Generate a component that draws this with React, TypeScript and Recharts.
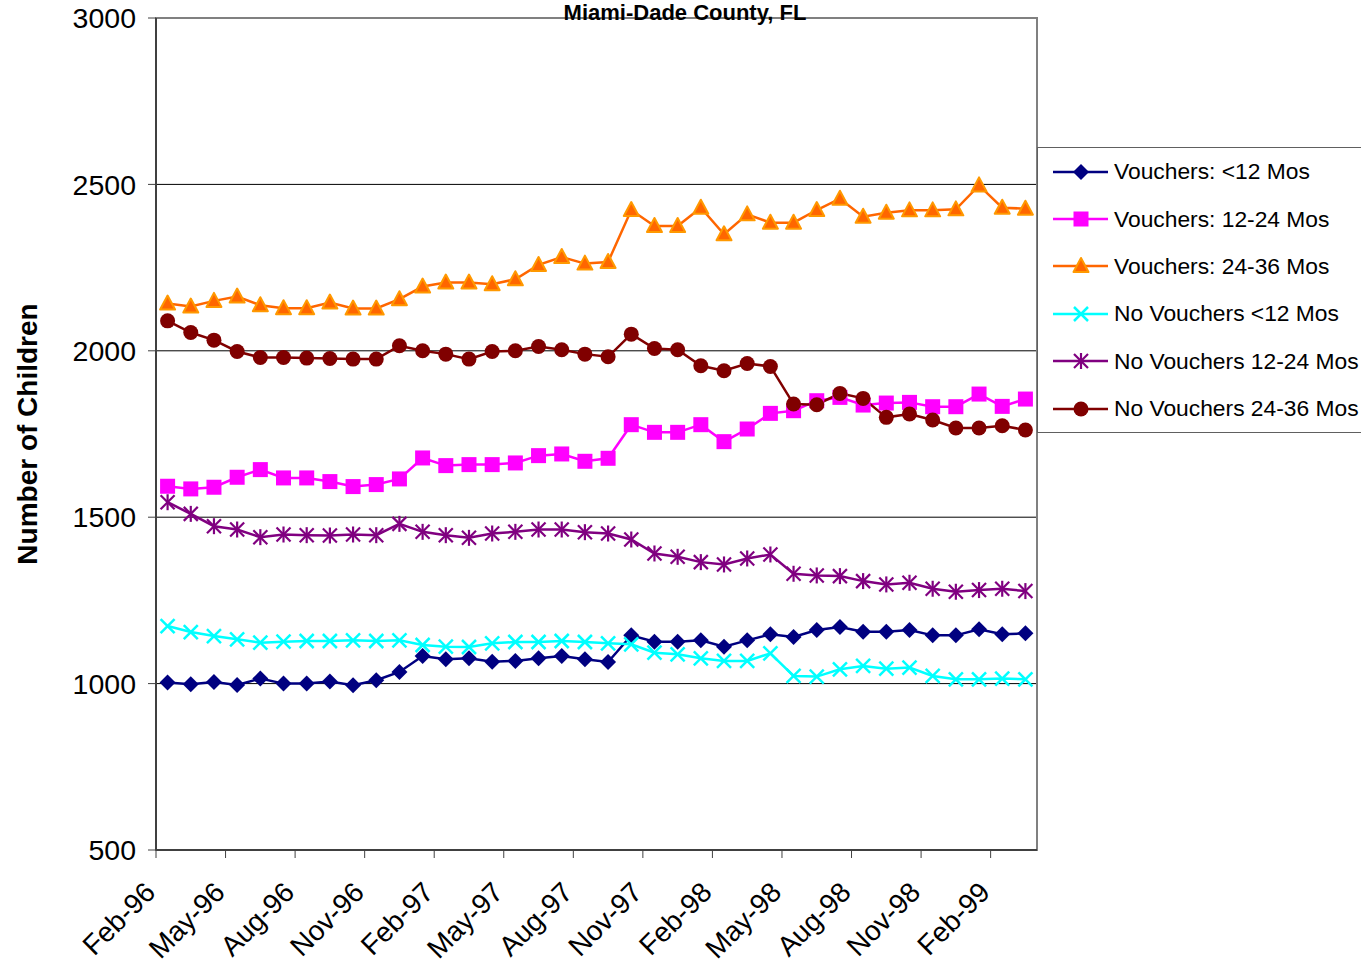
import React from "react";
import {
  LineChart, Line, XAxis, YAxis, CartesianGrid, ReferenceArea,
} from "recharts";

const MONTHS = [
  "Feb-96", "Mar-96", "Apr-96", "May-96", "Jun-96", "Jul-96", "Aug-96", "Sep-96", "Oct-96", "Nov-96", "Dec-96", "Jan-97",
  "Feb-97", "Mar-97", "Apr-97", "May-97", "Jun-97", "Jul-97", "Aug-97", "Sep-97", "Oct-97", "Nov-97", "Dec-97", "Jan-98",
  "Feb-98", "Mar-98", "Apr-98", "May-98", "Jun-98", "Jul-98", "Aug-98", "Sep-98", "Oct-98", "Nov-98", "Dec-98", "Jan-99",
  "Feb-99", "Mar-99",
];

const V_LT12 = [1003, 998, 1005, 996, 1015, 1000, 1000, 1006, 995, 1010, 1035, 1083, 1073, 1076, 1066, 1068, 1076, 1083, 1073, 1065, 1145, 1126, 1126, 1130, 1111, 1130, 1148, 1140, 1161, 1170, 1156, 1156, 1161, 1145, 1145, 1163, 1148, 1151];
const V_12_24 = [1593, 1585, 1590, 1620, 1643, 1618, 1618, 1607, 1592, 1598, 1615, 1678, 1655, 1658, 1658, 1663, 1685, 1690, 1668, 1677, 1778, 1755, 1755, 1778, 1727, 1765, 1812, 1820, 1850, 1860, 1837, 1843, 1845, 1832, 1832, 1870, 1833, 1855];
const V_24_36 = [2142, 2133, 2150, 2163, 2137, 2128, 2128, 2145, 2127, 2127, 2155, 2193, 2205, 2205, 2200, 2215, 2258, 2282, 2262, 2267, 2423, 2375, 2375, 2430, 2350, 2410, 2385, 2385, 2423, 2457, 2403, 2415, 2422, 2422, 2425, 2497, 2430, 2427];
const NV_LT12 = [1173, 1155, 1143, 1133, 1123, 1126, 1128, 1128, 1130, 1128, 1130, 1116, 1111, 1110, 1121, 1125, 1125, 1128, 1125, 1121, 1118, 1093, 1088, 1076, 1068, 1068, 1091, 1023, 1021, 1043, 1053, 1045, 1048, 1023, 1013, 1013, 1015, 1013];
const NV_12_24 = [1545, 1510, 1473, 1463, 1440, 1448, 1446, 1445, 1448, 1446, 1480, 1456, 1446, 1438, 1451, 1456, 1463, 1463, 1455, 1451, 1433, 1391, 1381, 1365, 1358, 1376, 1388, 1330, 1325, 1323, 1308, 1298, 1303, 1285, 1276, 1281, 1285, 1278];
const NV_24_36 = [2090, 2055, 2032, 1998, 1980, 1980, 1978, 1977, 1975, 1975, 2015, 2000, 1990, 1975, 1998, 2000, 2013, 2003, 1990, 1982, 2050, 2007, 2003, 1955, 1940, 1962, 1953, 1840, 1838, 1872, 1857, 1800, 1810, 1792, 1768, 1768, 1775, 1762];

const Y_TICKS = [500, 1000, 1500, 2000, 2500, 3000];

const FONT = "'Liberation Sans', Arial, sans-serif";

type Shape = "diamond" | "square" | "triangle" | "x" | "star" | "circle";

const SERIES: { key: string; name: string; color: string; shape: Shape; values: number[] }[] = [
  { key: "v12", name: "Vouchers: <12 Mos", color: "#000080", shape: "diamond", values: V_LT12 },
  { key: "v24", name: "Vouchers: 12-24 Mos", color: "#FF00FF", shape: "square", values: V_12_24 },
  { key: "v36", name: "Vouchers: 24-36 Mos", color: "#FF6600", shape: "triangle", values: V_24_36 },
  { key: "n12", name: "No Vouchers <12 Mos", color: "#00FFFF", shape: "x", values: NV_LT12 },
  { key: "n24", name: "No Vouchers 12-24 Mos", color: "#800080", shape: "star", values: NV_12_24 },
  { key: "n36", name: "No Vouchers 24-36 Mos", color: "#800000", shape: "circle", values: NV_24_36 },
];

const data = MONTHS.map((m, i) => {
  const row: Record<string, number | string> = { idx: i, month: m };
  SERIES.forEach((s) => { row[s.key] = s.values[i]; });
  return row;
});

// tick marks sit between months, every 3rd one (Excel style)
const X_TICKS = MONTHS.map((_, i) => i - 0.5).filter((_, i) => i % 3 === 0 && i < MONTHS.length - 1);

const Marker = ({ cx, cy, shape, color }: { cx: number; cy: number; shape: Shape; color: string }) => {
  if (cx == null || cy == null) return null;
  switch (shape) {
    case "diamond":
      return <polygon points={`${cx},${cy - 8} ${cx + 8},${cy} ${cx},${cy + 8} ${cx - 8},${cy}`} fill={color} />;
    case "square":
      return <rect x={cx - 7.5} y={cy - 7.5} width={15} height={15} fill={color} />;
    case "triangle":
      return (
        <polygon
          points={`${cx},${cy - 8} ${cx + 7.5},${cy + 6} ${cx - 7.5},${cy + 6}`}
          fill="#FF6600" stroke="#FF9900" strokeWidth={2} strokeLinejoin="round"
        />
      );
    case "x":
      return (
        <g stroke={color} strokeWidth={2.5}>
          <line x1={cx - 7} y1={cy - 7} x2={cx + 7} y2={cy + 7} />
          <line x1={cx - 7} y1={cy + 7} x2={cx + 7} y2={cy - 7} />
        </g>
      );
    case "star":
      return (
        <g stroke={color} strokeWidth={2.2}>
          <line x1={cx - 7} y1={cy - 7} x2={cx + 7} y2={cy + 7} />
          <line x1={cx - 7} y1={cy + 7} x2={cx + 7} y2={cy - 7} />
          <line x1={cx} y1={cy - 8} x2={cx} y2={cy + 8} />
        </g>
      );
    default:
      return <circle cx={cx} cy={cy} r={7.5} fill={color} />;
  }
};

const makeDot = (shape: Shape, color: string) => (props: any) => (
  <Marker key={`${shape}-${props.index}`} cx={props.cx} cy={props.cy} shape={shape} color={color} />
);

const XTick = ({ x, y, payload }: any) => {
  const label = MONTHS[Math.round(payload.value + 0.5)];
  const tx = x + 1;
  const ty = y + 34;
  return (
    <text x={tx} y={ty} transform={`rotate(-45 ${tx} ${ty})`} textAnchor="end"
      fontSize={28} fontFamily={FONT} fill="#000">
      {label}
    </text>
  );
};

export default function App() {
  return (
    <div style={{ position: "absolute", left: 0, top: 0, width: 1361, height: 963, background: "#fff", overflow: "hidden" }}>
      <LineChart
        width={1361}
        height={963}
        data={data}
        margin={{ top: 18, right: 324, left: 0, bottom: 0 }}
        style={{ fontFamily: FONT }}
      >
        <CartesianGrid horizontal vertical={false} stroke="#000" strokeWidth={1} />
        <ReferenceArea x1={-0.5} x2={37.5} y1={500} y2={3000} fill="none" fillOpacity={0}
          stroke="#808080" strokeWidth={2} ifOverflow="visible" />
        <XAxis
          type="number"
          dataKey="idx"
          domain={[-0.5, 37.5]}
          ticks={X_TICKS}
          interval={0}
          allowDataOverflow
          height={113}
          tick={<XTick />}
          tickSize={8}
          axisLine={{ stroke: "#404040", strokeWidth: 2 }}
          tickLine={{ stroke: "#404040", strokeWidth: 1 }}
        />
        <YAxis
          type="number"
          domain={[500, 3000]}
          ticks={Y_TICKS}
          interval={0}
          width={156}
          tickSize={8}
          tickMargin={12}
          tick={{ fontSize: 28.5, fill: "#000", fontFamily: FONT }}
          axisLine={{ stroke: "#404040", strokeWidth: 2 }}
          tickLine={{ stroke: "#404040", strokeWidth: 1 }}
          label={{
            value: "Number of Children", angle: -90, position: "insideLeft", offset: 27,
            style: { textAnchor: "middle", fontSize: 28, fontWeight: "bold", fill: "#000", fontFamily: FONT },
          }}
        />
        {SERIES.map((s) => (
          <Line
            key={s.key}
            dataKey={s.key}
            name={s.name}
            type="linear"
            stroke={s.color}
            strokeWidth={2.5}
            dot={makeDot(s.shape, s.color)}
            activeDot={false}
            isAnimationActive={false}
          />
        ))}
      </LineChart>

      {/* title */}
      <div style={{
        position: "absolute", left: 685, top: 2, transform: "translateX(-50%)", whiteSpace: "nowrap",
        fontFamily: FONT, fontWeight: "bold", fontSize: 22, lineHeight: "22px", color: "#000",
      }}>
        Miami-Dade County, FL
      </div>

      {/* legend */}
      <div style={{
        position: "absolute", left: 1037, top: 147, width: 340, height: 286, boxSizing: "border-box",
        border: "1.5px solid #606060", borderRight: "none", background: "#fff",
        fontFamily: FONT, fontSize: 22.8, color: "#000",
      }}>
        {SERIES.map((s) => (
          <div key={s.key} style={{ height: 47.4, display: "flex", alignItems: "center" }}>
            <svg width={76} height={30} style={{ flex: "none" }}>
              <line x1={15} y1={15} x2={70} y2={15} stroke={s.color} strokeWidth={2.5} />
              <Marker cx={43} cy={15} shape={s.shape} color={s.color} />
            </svg>
            <span style={{ whiteSpace: "nowrap" }}>{s.name}</span>
          </div>
        ))}
      </div>
    </div>
  );
}
